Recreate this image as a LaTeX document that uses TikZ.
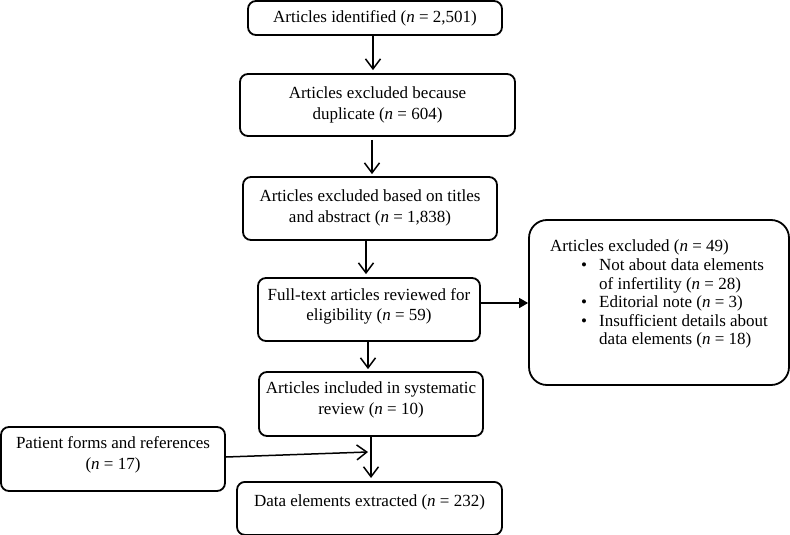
\documentclass[tikz,border=0pt]{standalone}
\usepackage{fontspec}
\setmainfont{Liberation Serif}
\usetikzlibrary{arrows.meta}
\tikzset{
  box/.style={draw, line width=1.8pt, rounded corners=8pt, align=center, inner sep=0pt,
    font=\fontsize{17}{20.5}\selectfont},
  arr/.style={line width=1.5pt, -{Straight Barb[length=10pt,width=15pt,line width=1.5pt]}},
  farr/.style={line width=1.5pt, -{Triangle[length=9pt,width=10pt]}}
}
\newcommand{\nn}{\textit{n}}
\newcommand{\dn}[1]{\rule[-#1pt]{0pt}{0pt}}
\begin{document}
\begin{tikzpicture}[x=1pt,y=-1pt]
\useasboundingbox (0,0) rectangle (790,535);
% boxes
\node[box, minimum width=254pt, minimum height=34pt] (b1) at (375,18)
  {Articles identified (\nn{} = 2,501)};
\node[box, minimum width=275pt, minimum height=62pt] (b2) at (377.5,105)
  {Articles excluded because\\duplicate (\nn{} = 604)};
\node[box, minimum width=254pt, minimum height=63pt] (b3) at (370,208.5)
  {Articles excluded based on titles\\and abstract (\nn{} = 1,838)\dn{5}};
\node[box, minimum width=222pt, minimum height=63pt] (b4) at (369,309.5)
  {Full-text articles reviewed for\\eligibility (\nn{} = 59)\dn{10}};
\node[box, minimum width=224pt, minimum height=64pt] (b5) at (371,404)
  {Articles included in systematic\\review (\nn{} = 10)\dn{12}};
\node[box, minimum width=224pt, minimum height=64pt] (b6) at (113,459)
  {Patient forms and references\\(\nn{} = 17)\dn{12}};
\node[box, anchor=north, minimum width=265pt, text height=25pt, text depth=28pt] (b7) at (369.5,481)
  {Data elements extracted (\nn{} = 232)};
\node[box, rounded corners=18pt, minimum width=260pt, minimum height=165pt] (b8) at (659,302.5) {};
\node[anchor=north west, inner sep=0pt, align=left, font=\fontsize{17}{18.6}\selectfont] (t8) at (550,240)
  {Articles excluded (\nn{} = 49)\\
   \hspace*{31pt}\makebox[18pt][l]{\textbullet}Not about data elements\\
   \hspace*{49pt}of infertility (\nn{} = 28)\\
   \hspace*{31pt}\makebox[18pt][l]{\textbullet}Editorial note (\nn{} = 3)\\
   \hspace*{31pt}\makebox[18pt][l]{\textbullet}Insufficient details about\\
   \hspace*{49pt}data elements (\nn{} = 18)};
% arrow x positions
\coordinate (x1) at (373,0);
\coordinate (x2) at (372,0);
\coordinate (x3) at (366,0);
\coordinate (x4) at (368,0);
\coordinate (x6) at (371,0);
\coordinate (ay) at (0,303);
\coordinate (m) at (368,452);
% connectors
\draw[arr, shorten >=3pt] (b1.south -| x1) -- (b2.north -| x1);
\draw[arr, shorten <=3pt, shorten >=2pt] (b2.south -| x2) -- (b3.north -| x2);
\draw[arr, shorten >=3pt] (b3.south -| x3) -- (b4.north -| x3);
\draw[arr, shorten >=2pt] (b4.south -| x4) -- (b5.north -| x4);
\draw[arr, shorten >=3pt] (b5.south -| x6) -- (b7.north -| x6);
\draw[farr] (b4.east |- ay) -- (b8.west |- ay);
\draw[arr] ([yshift=2pt]b6.east) -- (m);
\end{tikzpicture}
\end{document}
